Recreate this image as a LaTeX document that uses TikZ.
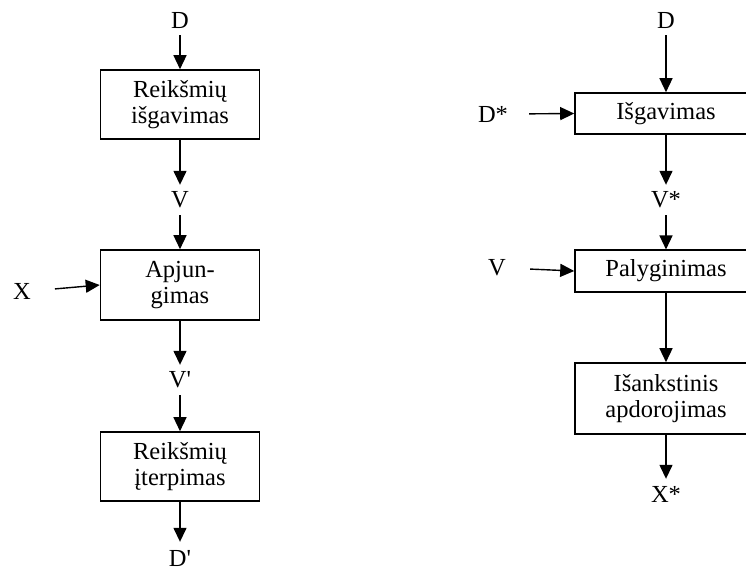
\documentclass[tikz,border=0pt]{standalone}
\usepackage{fontspec}
\setmainfont{Liberation Serif}
\usetikzlibrary{arrows.meta}
\begin{document}
\begin{tikzpicture}[x=1pt,y=-1pt,
  font=\fontsize{24.5}{25.5}\selectfont,
  box/.style={draw,line width=1.6pt,align=center,inner sep=0pt},
  lbox/.style={box,minimum width=159pt,minimum height=69pt},
  rbox/.style={box,minimum width=182pt},
  lbl/.style={inner sep=0pt,minimum height=30pt},
  arr/.style={line width=1.4pt,-{Triangle[length=14pt,width=13pt]}}]
\useasboundingbox (0,0) rectangle (746,571);

% left chain: extraction, merging, insertion
\node[lbl] (D1) at (180,20) {D};
\node[lbox] (b1) at (180,104.5) {Reikšmių\\išgavimas};
\node[lbl] (V1) at (180,200) {V};
\node[lbox,minimum height=70pt] (b2) at (180,285) {Apjun-\\gimas};
\node[lbl] (X1) at (22,291) {X};
\node[lbl] (V2) at (180,380) {V\textquotesingle};
\node[lbox] (b3) at (180,466.5) {Reikšmių\\įterpimas};
\node[lbl] (D2) at (180,558) {D\textquotesingle};

\draw[arr] (D1.south) -- (b1.north);
\draw[arr] (b1.south) -- (V1.north);
\draw[arr] (V1.south) -- (b2.north);
\draw[arr,shorten <=24pt] (X1.east) -- (b2.west);
\draw[arr] (b2.south) -- (V2.north);
\draw[arr] (V2.south) -- (b3.north);
\draw[arr,shorten >=1pt] (b3.south) -- (D2.north);

% right chain: extraction, comparison, preprocessing
\node[lbl] (D3) at (666,20) {D};
\node[rbox,minimum height=41pt] (r1) at (666,113.5) {Išgavimas};
\node[lbl] (Ds) at (493,114) {D*};
\node[lbl] (Vs) at (666,200) {V*};
\node[rbox,minimum height=41.5pt] (r2) at (666,271) {Palyginimas};
\node[lbl] (V3) at (497,268) {V};
\node[rbox,minimum height=71pt] (r3) at (666,398.5) {Išankstinis\\apdorojimas};
\node[lbl] (Xs) at (666,494) {X*};

\draw[arr] (D3.south) -- (r1.north);
\draw[arr,shorten <=21pt] (Ds.east) -- (r1.west);
\draw[arr] (r1.south) -- (Vs.north);
\draw[arr] (Vs.south) -- (r2.north);
\draw[arr,shorten <=24pt] (V3.east) -- (r2.west);
\draw[arr] (r2.south) -- (r3.north);
\draw[arr] (r3.south) -- (Xs.north);
\end{tikzpicture}
\end{document}
